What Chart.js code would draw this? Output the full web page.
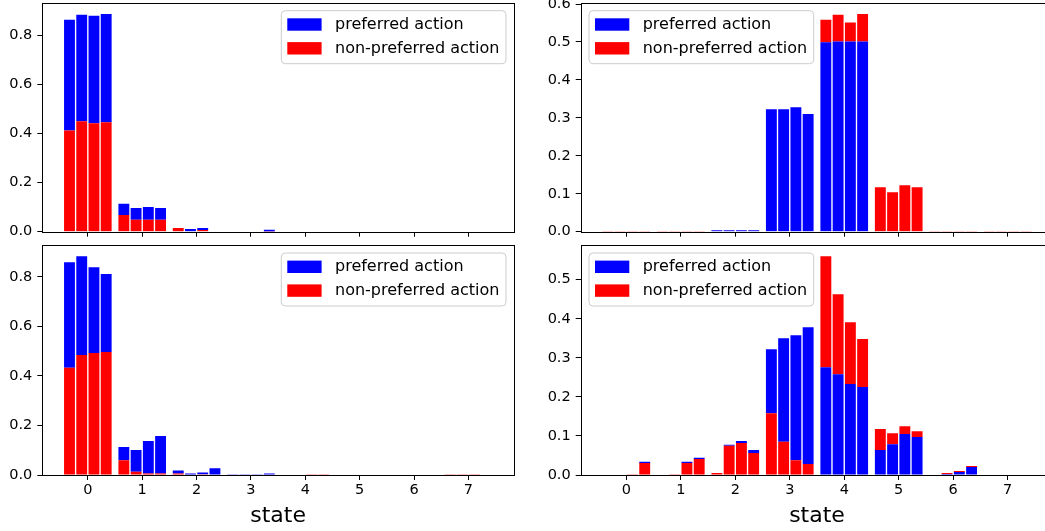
<!DOCTYPE html>
<html>
<head>
<meta charset="utf-8">
<script src="https://cdn.jsdelivr.net/npm/chart.js@4.4.1/dist/chart.umd.min.js"></script>
<style>
  html, body { margin: 0; padding: 0; background: #fff; overflow: hidden; }
  #fig { position: relative; width: 1045px; height: 531px; overflow: hidden; }
  .panel { position: absolute; }
</style>
</head>
<body>
<div id="fig">
  <div class="panel" style="left:0;top:0;width:520px;height:240px"><canvas id="tl"></canvas></div>
  <div class="panel" style="left:530px;top:0;width:530px;height:240px"><canvas id="tr"></canvas></div>
  <div class="panel" style="left:0;top:240px;width:520px;height:291px"><canvas id="bl"></canvas></div>
  <div class="panel" style="left:530px;top:240px;width:530px;height:291px"><canvas id="br"></canvas></div>
</div>
<script>
const states = [0, 1, 2, 3, 4, 5, 6, 7];
const stateLabels = ['0', '1', '2', '3', '4', '5', '6', '7'];
const legendLabels = ['preferred action', 'non-preferred action'];

// 4 runs per state, values listed state by state
const prefTL = [
  0.450, 0.433, 0.437, 0.441,
  0.046, 0.047, 0.051, 0.047,
  0, 0.009, 0.008, 0,
  0, 0, 0, 0.007,
  0, 0, 0, 0,
  0, 0, 0, 0,
  0, 0, 0, 0,
  0, 0, 0, 0
];
const nonTL = [
  0.412, 0.449, 0.441, 0.445,
  0.068, 0.049, 0.049, 0.049,
  0.015, 0.002, 0.007, 0.002,
  0.002, 0.002, 0.002, 0.001,
  0.002, 0.002, 0.002, 0.002,
  0.002, 0.002, 0.002, 0.002,
  0.002, 0.002, 0.002, 0.002,
  0.002, 0.002, 0.002, 0.002
];
const prefBottomTL = [false, false, false, false, false, false, false, false];

const prefTR = [
  0, 0, 0, 0,
  0, 0, 0, 0,
  0.004, 0.004, 0.004, 0.004,
  0.322, 0.322, 0.327, 0.309,
  0.499, 0.501, 0.501, 0.501,
  0, 0, 0, 0,
  0, 0, 0, 0,
  0, 0, 0, 0
];
const nonTR = [
  0.002, 0.002, 0.002, 0.002,
  0.002, 0.002, 0.002, 0.002,
  0, 0, 0, 0,
  0.001, 0.001, 0.001, 0.001,
  0.0595, 0.071, 0.050, 0.073,
  0.117, 0.104, 0.1225, 0.117,
  0.002, 0.002, 0.002, 0.002,
  0.002, 0.002, 0.002, 0.002
];
const prefBottomTR = [false, false, true, false, true, false, false, false];

const prefBL = [
  0.426, 0.399, 0.347, 0.315,
  0.053, 0.088, 0.131, 0.151,
  0.012, 0.004, 0.007, 0.025,
  0.003, 0.003, 0.003, 0.006,
  0, 0, 0, 0,
  0, 0, 0, 0,
  0, 0, 0, 0,
  0, 0, 0, 0
];
const nonBL = [
  0.433, 0.484, 0.492, 0.496,
  0.060, 0.013, 0.006, 0.006,
  0.006, 0.002, 0.003, 0.002,
  0, 0, 0, 0,
  0.002, 0.002, 0.003, 0.003,
  0.002, 0.002, 0.002, 0.002,
  0.002, 0.002, 0.002, 0.002,
  0.003, 0.003, 0.003, 0.002
];
const prefBottomBL = [false, false, false, false, false, false, false, false];

const prefBR = [
  0, 0, 0, 0.003,
  0, 0, 0.003, 0.003,
  0, 0.0025, 0.005, 0.008,
  0.164, 0.265, 0.320, 0.350,
  0.276, 0.258, 0.233, 0.225,
  0.064, 0.079, 0.105, 0.097,
  0, 0.0026, 0.0077, 0.0204,
  0, 0, 0, 0
];
const nonBR = [
  0.001, 0.001, 0.002, 0.031,
  0.001, 0.002, 0.031, 0.041,
  0.005, 0.075, 0.082, 0.056,
  0.158, 0.085, 0.038, 0.028,
  0.284, 0.205, 0.158, 0.123,
  0.054, 0.028, 0.020, 0.015,
  0.001, 0.0024, 0.0025, 0.0026,
  0.001, 0.001, 0.001, 0.001
];
const prefBottomBR = [false, false, false, false, true, true, true, false];

const yTicksTL = [0, 0.2, 0.4, 0.6, 0.8];
const yTicksTR = [0, 0.1, 0.2, 0.3, 0.4, 0.5, 0.6];
const yTicksBL = [0, 0.2, 0.4, 0.6, 0.8];
const yTicksBR = [0, 0.1, 0.2, 0.3, 0.4, 0.5];

const prefColor = '#0000ff';
const nonColor = '#ff0000';
const runOffsets = [-0.3375, -0.1125, 0.1125, 0.3375];
const FONT = '"DejaVu Sans", sans-serif';

// draws the axes box like matplotlib spines
const frame = {
  id: 'frame',
  afterDatasetsDraw(chart) {
    const { ctx, chartArea: a } = chart;
    ctx.save();
    ctx.strokeStyle = '#000';
    ctx.lineWidth = 1;
    ctx.strokeRect(Math.round(a.left) + 0.5, Math.round(a.top) + 0.5,
      Math.round(a.right - a.left), Math.round(a.bottom - a.top));
    ctx.restore();
  }
};

// legend box inside the axes
const boxLegend = {
  id: 'boxLegend',
  afterDraw(chart, args, opts) {
    const { ctx, chartArea } = chart;
    const colors = [prefColor, nonColor];
    ctx.save();
    ctx.font = '16px ' + FONT;
    const textW = Math.max(...legendLabels.map(l => ctx.measureText(l).width));
    const w = 53.7 + textW + 6.6, h = 53;
    const x = opts.side === 'left' ? chartArea.left + 8.3 : chartArea.right - 8 - w;
    const y = chartArea.top + 7.7;
    ctx.beginPath();
    ctx.roundRect(x, y, w, h, 4);
    ctx.fillStyle = 'rgba(255,255,255,0.8)';
    ctx.fill();
    ctx.strokeStyle = '#cccccc';
    ctx.lineWidth = 1;
    ctx.stroke();
    legendLabels.forEach((label, i) => {
      const cy = y + 13.8 + i * 23.8;
      ctx.fillStyle = colors[i];
      ctx.fillRect(x + 6, cy - 6.2, 34.3, 12.4);
      ctx.fillStyle = '#000';
      ctx.textBaseline = 'middle';
      ctx.fillText(label, x + 53.7, cy + 0.5);
    });
    ctx.restore();
  }
};

function makePanel(id, pref, non, prefBottom, yTicks, opt) {
  const xs = states.flatMap(s => runOffsets.map(o => s + o));
  const isPrefBottom = i => prefBottom[Math.floor(i / runOffsets.length)];
  const bottom = pref.map((p, i) => isPrefBottom(i) ? p : non[i]);
  const top = pref.map((p, i) => isPrefBottom(i) ? non[i] : p);
  const totals = bottom.map((b, i) => b + top[i]);
  const yMax = Math.max(...totals) * 1.05;

  const ctx = document.getElementById(id).getContext('2d');
  return new Chart(ctx, {
    type: 'bar',
    data: {
      datasets: [
        {
          data: xs.map((x, i) => ({ x, y: [0, bottom[i]] })),
          backgroundColor: xs.map((x, i) => isPrefBottom(i) ? prefColor : nonColor),
        },
        {
          data: xs.map((x, i) => ({ x, y: [bottom[i], totals[i]] })),
          backgroundColor: xs.map((x, i) => isPrefBottom(i) ? nonColor : prefColor),
        }
      ]
    },
    options: {
      responsive: true,
      maintainAspectRatio: false,
      animation: false,
      datasets: {
        bar: { grouped: false, categoryPercentage: 1, barPercentage: 0.889, borderWidth: 0 }
      },
      layout: { padding: { left: 0, top: opt.padTop, right: opt.padRight, bottom: 0 } },
      plugins: {
        legend: { display: false },
        tooltip: { enabled: false },
        boxLegend: { side: opt.legendSide }
      },
      scales: {
        x: {
          type: 'linear',
          offset: false,
          min: -0.8375,
          max: 7.8375,
          afterBuildTicks: s => { s.ticks = states.map(v => ({ value: v })); },
          afterFit: s => {
            s.height = opt.xHeight;
            s.paddingLeft = 0; s.paddingRight = 0;
          },
          grid: { offset: false, drawOnChartArea: false, tickLength: 5, color: '#000' },
          border: { display: false },
          ticks: {
            autoSkip: false, maxRotation: 0, padding: 2,
            color: '#000', font: { family: FONT, size: 14.5 },
            callback: (v, i) => opt.showX ? stateLabels[i] : ''
          },
          title: {
            display: opt.showX, text: 'state', color: '#000',
            font: { family: FONT, size: 22 }, padding: { top: 0, bottom: 2 }
          }
        },
        y: {
          min: 0,
          max: yMax,
          afterBuildTicks: s => { s.ticks = yTicks.map(v => ({ value: v })); },
          afterFit: s => {
            s.width = opt.yWidth;
            s.paddingTop = 0; s.paddingBottom = 0;
          },
          grid: { drawOnChartArea: false, tickLength: 5, color: '#000' },
          border: { display: false },
          ticks: {
            padding: 5, color: '#000', font: { family: FONT, size: 14.5 },
            callback: v => v.toFixed(1)
          }
        }
      }
    },
    plugins: [frame, boxLegend]
  });
}

makePanel('tl', prefTL, nonTL, prefBottomTL, yTicksTL,
  { padTop: 3, padRight: 6, xHeight: 8.3, yWidth: 42.3, showX: false, legendSide: 'right' });
makePanel('tr', prefTR, nonTR, prefBottomTR, yTicksTR,
  { padTop: 3, padRight: 6.7, xHeight: 8.3, yWidth: 50.7, showX: false, legendSide: 'left' });
makePanel('bl', prefBL, nonBL, prefBottomBL, yTicksBL,
  { padTop: 5.3, padRight: 6, xHeight: 56, yWidth: 42.3, showX: true, legendSide: 'right' });
makePanel('br', prefBR, nonBR, prefBottomBR, yTicksBR,
  { padTop: 5.3, padRight: 6.7, xHeight: 56, yWidth: 50.7, showX: true, legendSide: 'left' });
</script>
</body>
</html>
